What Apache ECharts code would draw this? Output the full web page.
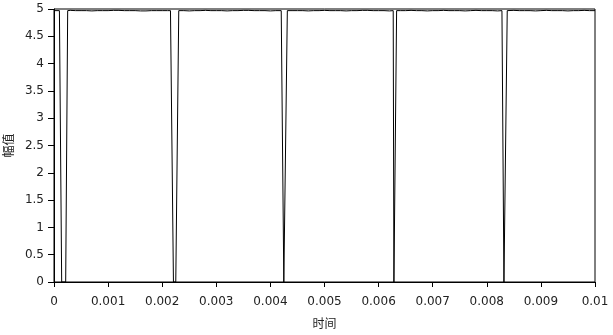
<!DOCTYPE html>
<html>
<head>
<meta charset="utf-8">
<script src="https://cdn.jsdelivr.net/npm/echarts@6/dist/echarts.min.js"></script>
<style>
html,body{margin:0;padding:0;background:#fff;}
#chart{width:613px;height:335px;}
</style>
</head>
<body>
<div id="chart"></div>
<script>
// Time (s) of each dip: start of fall, reaching 0, leaving 0, back at top
const dipFallStart = [0.000105, 0.002153, 0.004224, 0.006270, 0.008280];
const dipFallEnd   = [0.000142, 0.002208, 0.004248, 0.006283, 0.008317];
const dipRiseStart = [0.000216, 0.002251, 0.004254, 0.006292, 0.008336];
const dipRiseEnd   = [0.000253, 0.002306, 0.004313, 0.006333, 0.008378];
const dipLow = [0, 0, 0, 0, 0];

// Top level readings every 0.0001 s (with the small ripple)
const topStep = 0.0001;
const topValues = [
 4.97,4.97,4.975,4.975,4.97,4.97,4.97,4.965,4.97,4.97,
 4.97,4.975,4.975,4.97,4.97,4.97,4.965,4.965,4.97,4.97,
 4.97,4.97,4.975,4.97,4.97,4.965,4.97,4.97,4.975,4.97,
 4.97,4.97,4.965,4.97,4.97,4.975,4.975,4.97,4.97,4.97,
 4.965,4.97,4.97,4.975,4.97,4.97,4.97,4.965,4.97,4.97,
 4.975,4.97,4.97,4.97,4.965,4.97,4.97,4.975,4.975,4.97,
 4.97,4.97,4.965,4.97,4.97,4.97,4.975,4.97,4.97,4.965,
 4.97,4.97,4.975,4.97,4.97,4.97,4.965,4.97,4.975,4.97,
 4.97,4.97,4.965,4.97,4.97,4.975,4.97,4.97,4.97,4.965,
 4.97,4.975,4.97,4.97,4.97,4.965,4.97,4.97,4.975,4.97,4.97
];
const topLevel = 4.97;

const xTickLabels = ['0','0.001','0.002','0.003','0.004','0.005','0.006','0.007','0.008','0.009','0.01'];
const yTickLabels = ['0','0.5','1','1.5','2','2.5','3','3.5','4','4.5','5'];

// Assemble the waveform (sorted by time)
const pts = [];
topValues.forEach((v, i) => {
  const t = i * topStep;
  let inside = false;
  for (let k = 0; k < dipFallStart.length; k++) {
    if (t >= dipFallStart[k] && t <= dipRiseEnd[k]) inside = true;
  }
  if (!inside) pts.push([t, v]);
});
for (let k = 0; k < dipFallStart.length; k++) {
  pts.push([dipFallStart[k], topLevel]);
  pts.push([dipFallEnd[k], dipLow[k]]);
  pts.push([dipRiseStart[k], dipLow[k]]);
  pts.push([dipRiseEnd[k], topLevel]);
}
pts.sort((a, b) => a[0] - b[0]);

const chart = echarts.init(document.getElementById('chart'), null, {renderer: 'canvas'});
const labelFont = {fontFamily: 'DejaVu Sans', fontSize: 12, color: '#222'};
chart.setOption({
  animation: false,
  backgroundColor: '#fff',
  grid: {left: 54, right: 18, top: 9, bottom: 53, show: true, borderColor: '#000', borderWidth: 1,
         backgroundColor: 'transparent', containLabel: false, outerBoundsMode: 'none'},
  xAxis: {
    type: 'value', min: 0, max: 0.01, interval: 0.001,
    name: '时间', nameLocation: 'middle', nameGap: 35,
    nameTextStyle: {fontFamily: 'Noto Sans CJK SC', fontSize: 12, color: '#222'},
    axisLine: {show: true, lineStyle: {color: '#000', width: 1}},
    axisTick: {show: true, length: 5, lineStyle: {color: '#000'}},
    axisLabel: Object.assign({margin: 14, formatter: (v) => xTickLabels[Math.round(v / 0.001)]}, labelFont),
    splitLine: {show: false}
  },
  yAxis: {
    type: 'value', min: 0, max: 5, interval: 0.5,
    name: '幅值', nameLocation: 'middle', nameGap: 33, nameRotate: 90,
    nameTextStyle: {fontFamily: 'Noto Sans CJK SC', fontSize: 12, color: '#222'},
    axisLine: {show: true, lineStyle: {color: '#000', width: 1}},
    axisTick: {show: true, length: 6, lineStyle: {color: '#000'}},
    axisLabel: Object.assign({margin: 10, formatter: (v) => yTickLabels[Math.round(v / 0.5)]}, labelFont),
    splitLine: {show: false}
  },
  series: [{
    type: 'line',
    data: pts,
    showSymbol: false,
    symbol: 'none',
    lineStyle: {color: '#000', width: 1},
    silent: true
  }]
});
</script>
</body>
</html>
